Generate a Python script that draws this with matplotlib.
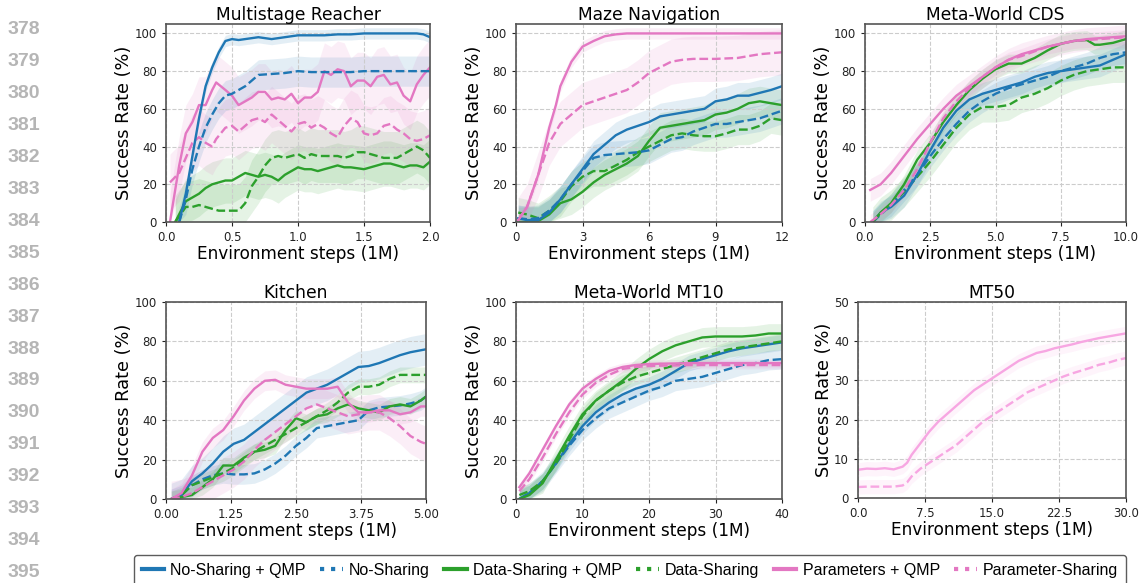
import matplotlib
matplotlib.use("Agg")
import matplotlib.pyplot as plt
from matplotlib.lines import Line2D
import numpy as np

BLUE = "#1f77b4"
GREEN = "#2ca02c"
PINK = "#e377c2"
LIGHT_PINK = "#f7a6e2"

# ---------------- Multistage Reacher ----------------
mr_ns_qmp_x = [0.1, 0.15, 0.2, 0.25, 0.3, 0.35, 0.4, 0.45, 0.5, 0.55, 0.6, 0.7, 0.8, 0.9, 1.0, 1.1, 1.2, 1.3, 1.4, 1.5, 1.6, 1.7, 1.8, 1.9, 1.95, 2.0]
mr_ns_qmp_y = [0, 15, 35, 55, 72, 82, 90, 96, 97, 96.5, 97, 98, 97, 98, 99, 99, 99, 99.5, 99.5, 100, 100, 100, 100, 100, 99.5, 98]
mr_ns_x = [0.1, 0.15, 0.2, 0.25, 0.3, 0.35, 0.4, 0.45, 0.5, 0.55, 0.6, 0.65, 0.7, 0.8, 0.9, 1.0, 1.1, 1.2, 1.3, 1.4, 1.5, 1.6, 1.7, 1.8, 1.9, 2.0]
mr_ns_y = [0, 12, 28, 40, 50, 57, 63, 67, 68, 70, 72, 75, 78, 78.5, 79, 80, 79.5, 79.5, 79.5, 79.5, 80, 80, 80, 80, 80, 80]
mr_p_x = [0.03, 0.1, 0.15, 0.2, 0.25, 0.3, 0.35, 0.38, 0.45, 0.5, 0.55, 0.6, 0.65, 0.7, 0.75, 0.8, 0.85, 0.9, 0.95, 1.0,
          1.05, 1.1, 1.15, 1.2, 1.25, 1.3, 1.35, 1.4, 1.45, 1.5, 1.55, 1.6, 1.65, 1.7, 1.75, 1.8, 1.85, 1.9, 1.95, 2.0]
mr_p_qmp_y = [0, 30, 47, 53, 62, 62, 70, 74, 70, 67, 62, 64, 66, 69, 69, 65, 66, 65, 68, 63,
              66, 66, 69, 80, 78, 81, 80, 72, 75, 75, 72, 77, 78, 73, 74, 67, 64, 73, 78, 82]
mr_p_y = [21, 26, 34, 42, 45, 42, 40, 44, 50, 51, 48, 51, 54, 55, 53, 57, 54, 51, 48, 52,
          53, 50, 52, 50, 47, 45, 51, 55, 53, 47, 46, 47, 51, 52, 49, 47, 44, 43, 44, 46]
mr_d_x = [0.07, 0.15, 0.2, 0.25, 0.3, 0.35, 0.4, 0.45, 0.5, 0.55, 0.6, 0.65, 0.7, 0.75, 0.8, 0.85, 0.9, 0.95, 1.0,
          1.05, 1.1, 1.15, 1.2, 1.3, 1.35, 1.4, 1.45, 1.5, 1.55, 1.6, 1.65, 1.7, 1.75, 1.8, 1.85, 1.9, 1.95, 2.0]
mr_d_qmp_y = [0, 11, 13, 15, 18, 20, 21, 22, 22, 24, 26, 25, 24, 25, 24, 22, 25, 27, 29,
              28, 28, 27, 28, 30, 29, 29, 28.5, 28, 29, 30, 31, 31, 30, 29, 30, 30, 29, 32]
mr_d_y = [0, 8, 8, 9, 8, 7, 6, 6, 6, 6, 10, 19, 24, 30, 34, 35, 34, 35, 36,
          34, 36, 35, 35, 35, 34, 35, 37, 37, 36, 35, 34, 34, 34, 36, 38, 40, 38, 34]

# ---------------- Maze Navigation ----------------
mz_p_qmp_x = [0.1, 0.5, 1.0, 1.5, 1.8, 2.0, 2.5, 3.0, 3.5, 4.0, 4.5, 5.0, 6, 8, 10, 12]
mz_p_qmp_y = [1, 8, 25, 50, 62, 72, 85, 93, 96, 98.5, 99.5, 100, 100, 100, 100, 100]
mz_p_x = [0.1, 0.5, 1.0, 1.3, 1.5, 2.0, 2.5, 3.0, 3.5, 4.0, 4.5, 5.0, 5.5, 6.0, 6.5, 7.0, 7.5, 8, 9, 10, 10.5, 11, 12]
mz_p_y = [1, 8, 25, 35, 42, 52, 57, 62, 64, 66, 68, 70, 74, 79, 82, 85, 86, 86.5, 86.5, 87, 88, 89, 90]
mz_x = [0.1, 0.5, 1.0, 1.5, 2.0, 2.5, 3.0, 3.5, 4.0, 4.5, 5.0, 5.5, 6.0, 6.5, 7.0, 7.5, 8.0, 8.5, 9.0, 9.5, 10.0, 10.5, 11.0, 11.5, 12.0]
mz_ns_qmp_y = [2, 1, 1, 5, 12, 20, 28, 36, 41, 46, 49, 51, 53, 56, 57, 58, 59, 60, 64, 65, 67, 67, 68.5, 70, 72]
mz_ns_y = [2, 1.5, 2, 6, 12, 20, 27, 34, 35.5, 36, 36.5, 37, 38, 41, 44, 45, 48, 50, 52, 52, 53, 54, 55, 57, 59]
mz_d_qmp_y = [0, 0, 0.5, 4, 10, 12, 16, 21, 25, 28, 31, 35, 43, 50, 51, 52, 53, 54, 57, 58, 60, 63, 64, 63, 62]
mz_d_y = [5, 4, 2, 6, 11, 19, 24, 27, 27, 30, 33, 37, 40, 43, 46, 47, 46, 45.5, 45.5, 47, 49, 49, 51, 55, 54]

# ---------------- Meta-World CDS ----------------
cds_p_qmp_x = [0.2, 0.6, 1.0, 1.5, 2.0, 2.5, 3.0, 3.5, 4.0, 4.5, 5.0, 5.5, 6.0, 6.5, 7.0, 7.5, 8.0, 8.5, 9.0, 9.5, 10.0]
cds_p_qmp_y = [17, 20, 26, 35, 44, 52, 60, 67, 72, 77, 82, 86, 89, 91, 93, 94.5, 96, 97, 97.5, 98, 98.5]
cds_p_x = [0.2, 0.5, 1.0, 1.5, 2.0, 2.5, 3.0, 3.5, 4.0, 4.5, 5.0, 5.5, 6.0, 7.0, 8.0, 9.0, 10.0]
cds_p_y = [0, 3, 9, 17, 28, 42, 55, 64, 71, 77, 82, 86, 88, 93, 96, 97, 98]
cds_d_qmp_x = [0.3, 0.6, 1.0, 1.5, 2.0, 2.5, 3.0, 3.5, 4.0, 4.5, 5.0, 5.5, 6.0, 6.5, 7.0, 7.5, 8.0, 8.5, 8.8, 9.0, 9.5, 10.0]
cds_d_qmp_y = [0, 5, 10, 20, 33, 42, 53, 62, 70, 76, 81, 84, 84, 87, 91, 94.5, 96, 96.5, 94, 94, 95, 97]
cds_x = [0.3, 0.6, 1.0, 1.5, 2.0, 2.5, 3.0, 3.5, 4.0, 4.5, 5.0, 5.5, 6.0, 6.5, 7.0, 7.5, 8.0, 8.5, 9.0, 9.5, 10.0]
cds_d_y = [0, 5, 9, 16, 24, 32, 41, 50, 57, 61, 61, 62, 66, 68, 71, 75, 78, 80, 81, 82, 82]
cds_ns_qmp_y = [0, 5, 8, 14, 25, 38, 50, 59, 65, 68, 70, 72, 74, 77, 79, 80, 81, 82, 83, 86, 89]
cds_ns_y = [0, 4, 9, 17, 25, 35, 44, 52, 59, 64, 68, 71, 73, 75, 77, 80, 82, 84, 87, 89, 90]

# ---------------- Kitchen ----------------
k_x = [0.1, 0.3, 0.5, 0.7, 0.9, 1.1, 1.3, 1.5, 1.7, 1.9, 2.1, 2.3, 2.5, 2.7, 2.9, 3.1, 3.3, 3.5, 3.7, 3.9, 4.1, 4.3, 4.5, 4.7, 4.9, 5.0]
k_p_qmp_y = [0, 3, 12, 24, 31, 35, 42, 50, 56, 60, 60.5, 58, 57, 56, 56, 56, 57, 49, 44, 44, 45, 45, 43, 44, 47, 47]
k_p_y = [0, 1, 3, 6, 9, 12, 15, 19, 25, 30, 34, 38, 42, 46, 48, 46, 44, 42, 43, 44, 44, 41, 37, 32, 29, 28]
k_ns_qmp_y = [0, 2, 9, 13, 18, 24, 28, 30, 34, 38, 42, 46, 50, 54, 56, 58, 61, 64, 67, 67.5, 69, 71, 73, 74.5, 75.5, 76]
k_ns_y = [0, 2, 7, 10, 12, 13, 12.5, 12.5, 13, 15, 18, 22, 27, 31, 36, 37, 38, 39, 40, 45, 46.5, 47, 47.5, 48.5, 50, 52]
k_d_qmp_y = [0, 1, 2, 6, 10, 17, 17, 21, 24, 25, 27, 35, 41, 39, 42, 43, 46, 48, 46, 45, 44, 47, 48, 47, 50, 52]
k_d_y = [0, 2, 7, 9, 11, 13, 16, 20, 24, 27, 30, 33, 36, 39, 42, 45, 49, 54, 57, 57, 58, 61, 63, 63, 63, 63]

# ---------------- Meta-World MT10 ----------------
t10_x = [0.5, 2, 4, 6, 8, 10, 12, 14, 16, 18, 20, 22, 24, 26, 28, 30, 32, 34, 36, 38, 40]
t10_p_qmp_y = [6, 13, 25, 37, 48, 56, 61, 65, 67, 68, 68.5, 68.7, 68.8, 69, 69, 69, 69, 69, 69, 69, 69]
t10_p_y = [4, 10, 21, 33, 44, 53, 59, 63, 66, 67, 67.5, 67.7, 67.8, 68, 68, 68, 68, 68, 68, 68, 68]
t10_d_qmp_y = [0, 2, 8, 20, 32, 43, 50, 55, 60, 66, 71, 75, 78, 80, 82, 82.5, 82.5, 82.5, 83, 84, 84]
t10_d_y = [2, 4, 9, 18, 30, 42, 50, 55, 59, 62, 64, 66, 68, 70, 72, 74, 76, 77, 78, 79, 80]
t10_ns_qmp_y = [0, 3, 9, 18, 28, 37, 44, 49, 53, 56, 58, 61, 65, 69, 71, 73, 75, 76.5, 77.5, 78.5, 79.5]
t10_ns_y = [0, 3, 9, 18, 27, 35, 41, 46, 49, 52, 55, 57, 60, 61, 62, 64, 66, 68, 69, 70.5, 71]

# ---------------- MT50 ----------------
t50_x = [0, 1, 2, 3, 4, 5, 5.5, 6, 6.5, 7, 8, 9, 10, 11, 12, 13, 14, 15, 16, 17, 18, 19, 20, 21, 22, 23, 24, 25, 26, 27, 28, 29, 30]
t50_p_qmp_y = [7.2, 7.5, 7.4, 7.6, 7.3, 8, 9, 11, 12.5, 14, 17, 19.5, 21.5, 23.5, 25.5, 27.5, 29, 30.5, 32, 33.5, 35, 36,
               37, 37.5, 38.2, 38.7, 39.2, 39.8, 40.3, 40.8, 41.2, 41.6, 42]
t50_p_y = [2.8, 2.9, 2.9, 2.9, 2.9, 3.2, 4, 5.5, 6.5, 7.5, 9, 10.5, 12, 13.5, 15.5, 17.5, 19.5, 21, 22.5, 24, 25.5, 27,
           28, 29, 30, 31, 31.8, 32.5, 33.2, 34, 34.5, 35.2, 35.7]

# panel definitions: title, xlim, xticks, ylim, yticks, series (x, y, color, dashed, band)
panels = [
    ("Multistage Reacher", (0, 2.0), [0.0, 0.5, 1.0, 1.5, 2.0], "{:.1f}", (0, 105), [0, 20, 40, 60, 80, 100], [
        (mr_d_x, mr_d_qmp_y, GREEN, False, 12),
        (mr_d_x, mr_d_y, GREEN, True, 14),
        (mr_p_x, mr_p_qmp_y, PINK, False, 15),
        (mr_p_x, mr_p_y, PINK, True, 15),
        (mr_ns_x, mr_ns_y, BLUE, True, 8),
        (mr_ns_qmp_x, mr_ns_qmp_y, BLUE, False, 3),
    ]),
    ("Maze Navigation", (0, 12), [0, 3, 6, 9, 12], "{:.0f}", (0, 105), [0, 20, 40, 60, 80, 100], [
        (mz_x, mz_d_qmp_y, GREEN, False, 8),
        (mz_x, mz_d_y, GREEN, True, 8),
        (mz_x, mz_ns_y, BLUE, True, 7),
        (mz_x, mz_ns_qmp_y, BLUE, False, 7),
        (mz_p_x, mz_p_y, PINK, True, 12),
        (mz_p_qmp_x, mz_p_qmp_y, PINK, False, 3),
    ]),
    ("Meta-World CDS", (0, 10.0), [0.0, 2.5, 5.0, 7.5, 10.0], "{:.1f}", (0, 105), [0, 20, 40, 60, 80, 100], [
        (cds_x, cds_d_y, GREEN, True, 8),
        (cds_x, cds_ns_y, BLUE, True, 6),
        (cds_x, cds_ns_qmp_y, BLUE, False, 6),
        (cds_d_qmp_x, cds_d_qmp_y, GREEN, False, 5),
        (cds_p_x, cds_p_y, PINK, True, 4),
        (cds_p_qmp_x, cds_p_qmp_y, PINK, False, 6),
    ]),
    ("Kitchen", (0, 5.0), [0.0, 1.25, 2.5, 3.75, 5.0], "{:.2f}", (0, 100), [0, 20, 40, 60, 80, 100], [
        (k_x, k_ns_y, BLUE, True, 5),
        (k_x, k_ns_qmp_y, BLUE, False, 8),
        (k_x, k_d_y, GREEN, True, 4),
        (k_x, k_d_qmp_y, GREEN, False, 4),
        (k_x, k_p_y, PINK, True, 9),
        (k_x, k_p_qmp_y, PINK, False, 5),
    ]),
    ("Meta-World MT10", (0, 40), [0, 10, 20, 30, 40], "{:.0f}", (0, 100), [0, 20, 40, 60, 80, 100], [
        (t10_x, t10_ns_y, BLUE, True, 5),
        (t10_x, t10_ns_qmp_y, BLUE, False, 4),
        (t10_x, t10_d_y, GREEN, True, 4),
        (t10_x, t10_d_qmp_y, GREEN, False, 5),
        (t10_x, t10_p_y, PINK, True, 2),
        (t10_x, t10_p_qmp_y, PINK, False, 2),
    ]),
    ("MT50", (0, 30.0), [0.0, 7.5, 15.0, 22.5, 30.0], "{:.1f}", (0, 50), [0, 10, 20, 30, 40, 50], [
        (t50_x, t50_p_y, LIGHT_PINK, True, 1.8),
        (t50_x, t50_p_qmp_y, LIGHT_PINK, False, 1.8),
    ]),
]

# axes boxes in pixels (left, right, top, bottom) of a 1139x583 figure
W, H = 1139, 583
boxes = [
    (166, 430, 24, 222), (516, 782, 24, 222), (865, 1126, 24, 222),
    (166, 426, 302, 499), (516, 782, 302, 499), (858, 1126, 302, 498),
]

fig = plt.figure(figsize=(W / 100, H / 100), dpi=100)

for (title, xlim, xticks, xfmt, ylim, yticks, series), (l, r, t, b) in zip(panels, boxes):
    ax = fig.add_axes([l / W, 1 - b / H, (r - l) / W, (b - t) / H])
    for xs, ys, col, dashed, band in series:
        xs = np.array(xs, dtype=float)
        ys = np.array(ys, dtype=float)
        lo = np.clip(ys - band, 0, None)
        hi = ys + band
        ax.fill_between(xs, lo, hi, color=col, alpha=0.12, linewidth=0)
        ax.plot(xs, ys, color=col, lw=1.7, ls="--" if dashed else "-")
    ax.set_xlim(*xlim)
    ax.set_ylim(*ylim)
    ax.set_xticks(xticks)
    ax.set_xticklabels([xfmt.format(v) for v in xticks])
    ax.set_yticks(yticks)
    ax.tick_params(labelsize=8.5, length=3, colors="#222222")
    ax.grid(True, ls="--", color="#cccccc", lw=0.8)
    for sp in ax.spines.values():
        sp.set_color("#555555")
        sp.set_linewidth(1.2)
    ax.set_title(title, fontsize=12.3, pad=3)
    ax.set_xlabel("Environment steps (1M)", fontsize=12.2, labelpad=1)
    ax.set_ylabel("Success Rate (%)", fontsize=12.8, labelpad=1)

# paper line numbers on the left margin
for i, num in enumerate(range(378, 396)):
    fig.text(8 / W, 1 - (30 + i * 31.9) / H, str(num), fontsize=14, fontweight="bold",
             color="#b5b5b5", family="Liberation Sans", va="center", ha="left")

labels = ["No-Sharing + QMP", "No-Sharing", "Data-Sharing + QMP", "Data-Sharing",
          "Parameters + QMP", "Parameter-Sharing"]
colors = [BLUE, BLUE, GREEN, GREEN, PINK, PINK]
handles = [Line2D([0], [0], color=c, lw=3, ls=":" if i % 2 else "-")
           for i, c in enumerate(colors)]
leg = fig.legend(handles, labels, ncol=6, loc="upper center",
                 bbox_to_anchor=(630 / W, 1 - 555 / H),
                 prop={"family": "Liberation Sans", "size": 11.5},
                 frameon=True, fancybox=True, handlelength=1.4, columnspacing=0.9,
                 handletextpad=0.4, borderpad=0.5, borderaxespad=0)
leg.get_frame().set_edgecolor("#333333")
leg.get_frame().set_linewidth(1.0)

fig.savefig("out.png", dpi=100)
